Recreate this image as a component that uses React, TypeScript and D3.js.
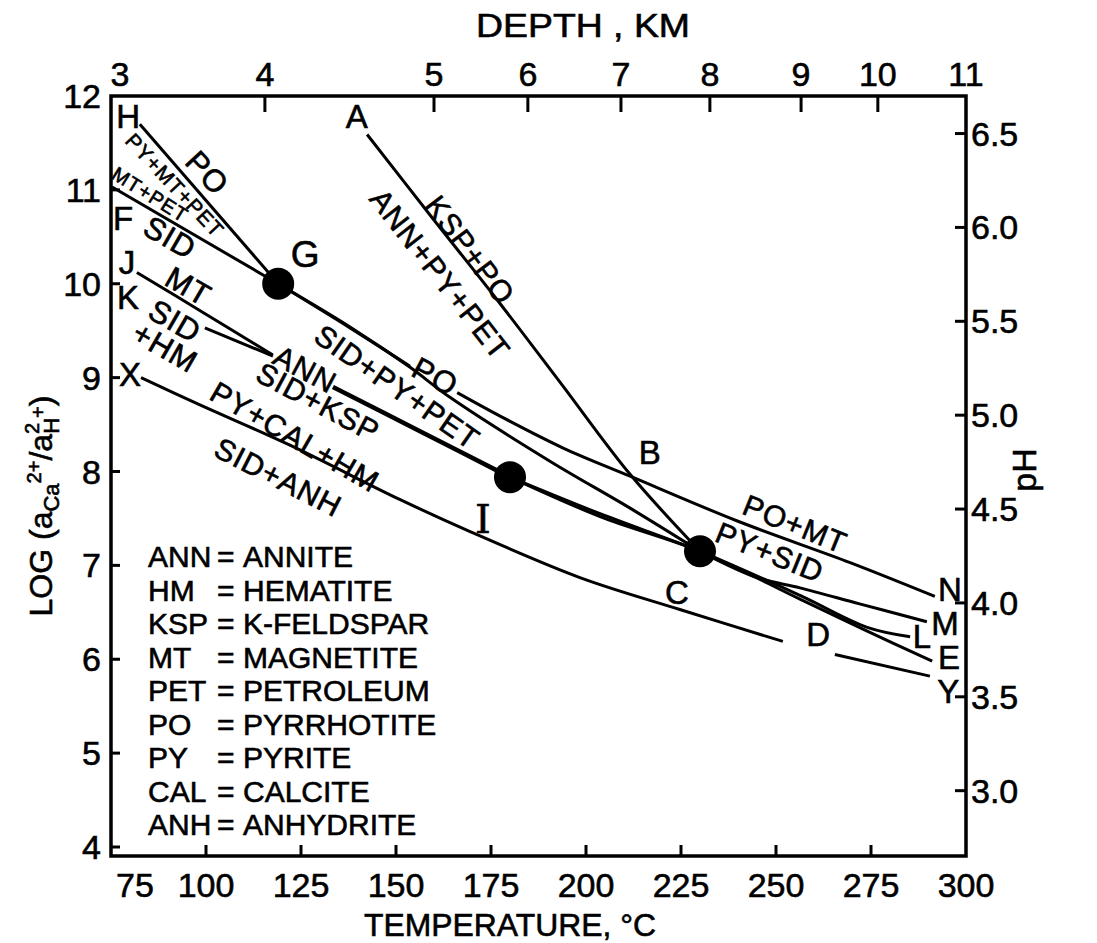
import React from 'react';
import * as d3 from 'd3';

// ---------- data ----------
const tempTicks = [75, 100, 125, 150, 175, 200, 225, 250, 275, 300];
const logTicks = [4, 5, 6, 7, 8, 9, 10, 11, 12];
const phTicks = [3.0, 3.5, 4.0, 4.5, 5.0, 5.5, 6.0, 6.5];
const depthTicks = [3, 4, 5, 6, 7, 8, 9, 10, 11];
const depthTemps = [75, 115.5, 160, 184.7, 209.2, 232.6, 256.6, 276.8, 300];

// curves: [temperature °C, log(aCa2+/aH+^2)]
const lineH = [[82.6, 11.7], [119, 10.0]];
const lineF = [[75.3, 11.03], [119, 10.0]];
const lineGN1 = [[119, 10.0], [137.9, 9.53], [153.7, 9.12]];
const lineGN2 = [[166.1, 8.84], [177.4, 8.59], [194, 8.25], [211.6, 7.95], [240, 7.47], [269.5, 7.03], [291.8, 6.67]];
const lineB = [[119, 10.0], [137.9, 9.54], [153.7, 9.11], [164.2, 8.79], [190.5, 8.11], [211.6, 7.61], [230, 7.15]];
const lineA = [[142.4, 11.59], [159, 10.73], [176.6, 9.83], [193.2, 8.95], [211.6, 7.97], [230, 7.15]];
const lineJ = [[81.8, 10.12], [99, 9.7], [117.6, 9.24]];
const lineK1 = [[99.7, 9.53], [117.6, 9.23]];
const lineK2 = [[133.4, 8.9], [156.3, 8.43], [180, 7.94]];
const lineL = [[180, 7.94], [203.7, 7.55], [230, 7.15], [256.3, 6.68], [274, 6.34], [285.3, 6.24]];
const lineE = [[180, 7.94], [203.7, 7.52], [230, 7.15], [256.3, 6.64], [274, 6.3], [291.1, 5.98]];
const lineM = [[230, 7.15], [245, 6.87], [256.3, 6.76], [272, 6.59], [289.7, 6.4]];
const lineX1 = [[82.9, 9.0], [98.4, 8.71], [122.1, 8.28], [151.1, 7.7], [169.5, 7.36], [198.4, 6.87], [224.7, 6.53], [251.8, 6.19]];
const lineY2 = [[265.5, 6.05], [290.5, 5.82]];

const thinCurves = [lineH, lineF, lineGN1, lineGN2, lineB, lineA, lineJ, lineK1, lineL, lineE, lineM, lineX1, lineY2];
const thickCurves = [lineK2];

const triplePoints = [[119, 10.0], [180, 7.94], [230, 7.15]];

// point letters [text, T, log]
const letterLabels: [string, number, number][] = [
  ['H', 79.5, 11.78], ['F', 78.2, 10.7], ['J', 79.2, 10.23], ['K', 79.5, 9.85],
  ['X', 80.0, 9.03], ['A', 139.7, 11.78], ['G', 126.1, 10.31], ['B', 216.8, 8.2],
  ['C', 223.9, 6.71], ['D', 261.1, 6.26], ['N', 295.8, 6.74], ['M', 294.5, 6.38],
  ['L', 288.4, 6.24], ['E', 295.5, 6.02], ['Y', 295.3, 5.66],
];

// field labels [text, T, log, angle, size]
const fieldLabels: [string, number, number, number, number][] = [
  ['PY+MT+PET', 91.8, 11.05, 47, 21],
  ['PO', 100.3, 11.18, 47, 31],
  ['MT+PET', 85.3, 10.95, 32, 20],
  ['SID', 90.5, 10.49, 30, 31],
  ['KSP+PO', 169.5, 10.36, 53, 30],
  ['ANN+PY+PET', 161.6, 10.1, 52, 30],
  ['MT', 95.3, 9.97, 30, 31],
  ['SID', 91.8, 9.6, 30, 31],
  ['+HM', 89.2, 9.32, 30, 31],
  ['ANN', 126.1, 9.09, 28, 30],
  ['SID+KSP', 129.5, 8.74, 28, 30],
  ['SID+PY+PET', 150.3, 8.9, 35, 30],
  ['PO', 160.3, 9.01, 28, 31],
  ['PY+CAL+HM', 123.4, 8.37, 30, 30],
  ['SID+ANH', 119.0, 7.94, 27, 30],
  ['PO+MT', 255.0, 7.44, 22, 30],
  ['PY+SID', 248.4, 7.14, 22, 30],
];

const abbrevs = ['ANN', 'HM', 'KSP', 'MT', 'PET', 'PO', 'PY', 'CAL', 'ANH'];
const mineralNames = ['ANNITE', 'HEMATITE', 'K-FELDSPAR', 'MAGNETITE', 'PETROLEUM', 'PYRRHOTITE', 'PYRITE', 'CALCITE', 'ANHYDRITE'];

// ---------- layout ----------
const W = 1097;
const H = 943;
const FONT = '"Liberation Sans", Arial, sans-serif';

const x = d3.scaleLinear().domain([75, 300]).range([111, 966]);
const y = d3.scaleLinear().domain([4, 12]).range([847, 96]);
const ph = d3.scaleLinear().domain([(4 + 1.4) / 2, (12 + 1.4) / 2]).range([847, 96]);
const frameBottom = 856;

const lineGen = d3
  .line<number[]>()
  .x((d) => x(d[0]))
  .y((d) => y(d[1]))
  .curve(d3.curveCatmullRom.alpha(0.5));

export default function App() {
  const left = x(75);
  const right = x(300);
  const top = y(12);
  return (
    <svg width={W} height={H} style={{ position: 'absolute', left: 0, top: 0, background: '#fff' }} fontFamily={FONT}>
      <rect x={0} y={0} width={W} height={H} fill="#fff" />
      {/* frame */}
      <path d={`M${left},${top}H${right}V${frameBottom}H${left}Z`} fill="none" stroke="#000" strokeWidth={3.5} strokeLinejoin="miter" />

      <g stroke="#000" strokeWidth={0.6}>
        {/* bottom axis */}
        {tempTicks.map((t, i) => (
          <g key={'bt' + t}>
            {i > 0 && i < tempTicks.length - 1 && <line x1={x(t)} x2={x(t)} y1={frameBottom} y2={frameBottom - 11} stroke="#000" strokeWidth={3} />}
            <text x={i === 0 ? x(t) + 24 : x(t)} y={897} fontSize={34} textAnchor="middle">{t}</text>
          </g>
        ))}
        <text x={364} y={936} fontSize={32} textLength={292} lengthAdjust="spacingAndGlyphs">TEMPERATURE,  °C</text>

        {/* top depth axis */}
        {depthTicks.map((d, i) => (
          <g key={'dt' + d}>
            {i > 0 && i < depthTicks.length - 1 && <line x1={x(depthTemps[i])} x2={x(depthTemps[i])} y1={top} y2={top + 16} stroke="#000" strokeWidth={3} />}
            <text x={i === 0 ? x(depthTemps[i]) + 9 : x(depthTemps[i])} y={86} fontSize={34} textAnchor="middle">{d}</text>
          </g>
        ))}
        <text x={476} y={37} fontSize={33} textLength={214} lengthAdjust="spacingAndGlyphs">DEPTH , KM</text>

        {/* left axis */}
        {logTicks.map((v, i) => (
          <g key={'lt' + v}>
            {i < logTicks.length - 1 && <line x1={left} x2={left + 9} y1={y(v)} y2={y(v)} stroke="#000" strokeWidth={3} />}
            <text x={101} y={y(v) + 12} fontSize={34} textAnchor="end">{v}</text>
          </g>
        ))}
        <text transform="translate(52,506) rotate(-90)" fontSize={32} textAnchor="middle">
          LOG (a
          <tspan fontSize={22} dy={7}>Ca</tspan>
          <tspan fontSize={20} dy={-18}>2+</tspan>
          <tspan fontSize={32} dy={11}>/a</tspan>
          <tspan fontSize={20} dy={-13}>2</tspan>
          <tspan fontSize={22} dx={-11} dy={20}>H</tspan>
          <tspan fontSize={20} dy={-14}>+</tspan>
          <tspan fontSize={32} dy={7}>)</tspan>
        </text>

        {/* right pH axis */}
        {phTicks.map((v) => (
          <g key={'pt' + v}>
            <line x1={right} x2={right - 11} y1={ph(v)} y2={ph(v)} stroke="#000" strokeWidth={3} />
            <text x={971} y={ph(v) + 12} fontSize={34}>{v.toFixed(1)}</text>
          </g>
        ))}
        <text transform="translate(1036,470) rotate(-90)" fontSize={34} textAnchor="middle">pH</text>

        {/* letters */}
        {letterLabels.map(([t, T, L], i) => (
          <text key={'ll' + i} x={x(T)} y={y(L)} fontSize={t === 'G' ? 37 : 33} textAnchor="middle" dominantBaseline="central">{t}</text>
        ))}
        <text x={x(172.9)} y={y(7.49)} fontSize={40} textAnchor="middle" dominantBaseline="central" fontFamily='"DejaVu Serif", serif'>I</text>

        {/* field labels */}
        {fieldLabels.map(([t, T, L, a, s], i) => (
          <text key={'fl' + i} transform={`translate(${x(T)},${y(L)}) rotate(${a})`} fontSize={s} textAnchor="middle" dominantBaseline="central" letterSpacing={1}>{t}</text>
        ))}

        {/* legend */}
        {abbrevs.map((a, i) => (
          <g key={'lg' + a} fontSize={30}>
            <text x={148} y={567 + i * 33.5}>{a}</text>
            <text x={217} y={567 + i * 33.5}>=</text>
            <text x={243} y={567 + i * 33.5}>{mineralNames[i]}</text>
          </g>
        ))}
      </g>

      {/* curves */}
      {thinCurves.map((c, i) => (
        <path key={'c' + i} d={lineGen(c) || ''} fill="none" stroke="#000" strokeWidth={3} strokeLinecap="butt" />
      ))}
      {thickCurves.map((c, i) => (
        <path key={'k' + i} d={lineGen(c) || ''} fill="none" stroke="#000" strokeWidth={4.5} strokeLinecap="butt" />
      ))}
      {triplePoints.map((p, i) => (
        <circle key={'tp' + i} cx={x(p[0])} cy={y(p[1])} r={16} fill="#000" />
      ))}
    </svg>
  );
}
